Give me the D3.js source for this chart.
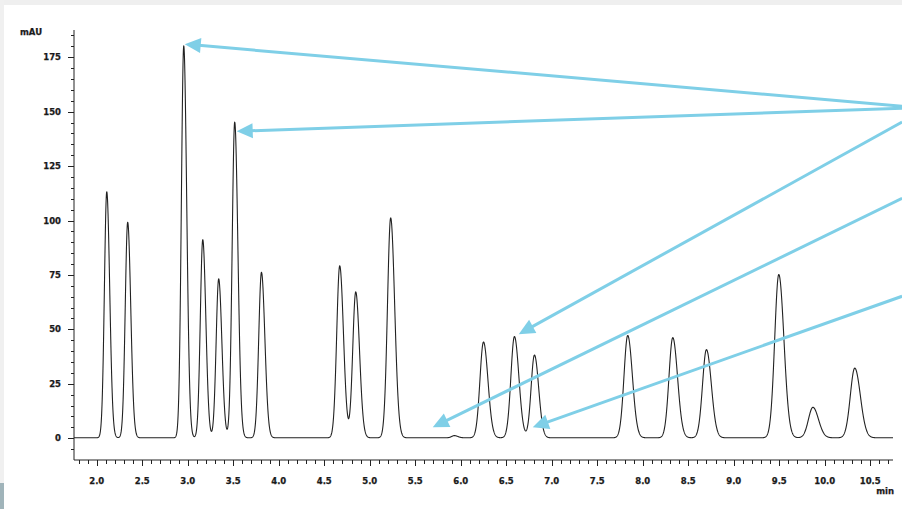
<!DOCTYPE html>
<html>
<head>
<meta charset="utf-8">
<script src="https://cdn.jsdelivr.net/npm/d3@7"></script>
<style>
  html, body { margin: 0; padding: 0; background: #fff; }
  svg { display: block; }
  .tick-label { font-family: "DejaVu Sans", sans-serif; font-weight: bold; font-size: 8.5px; fill: #1a1a1a; stroke: #1a1a1a; stroke-width: 0.25px; }
</style>
</head>
<body>
<div id="chart"></div>
<script>
// peak retention times (min), heights (mAU), widths (sigma, min)
const peakTimes   = [2.11, 2.34, 2.956, 3.165, 3.34, 3.516, 3.81, 4.67, 4.846, 5.23, 5.93, 6.25, 6.59, 6.81, 7.835, 8.33, 8.70, 9.495, 9.87, 10.33];
const peakHeights = [113, 99, 180, 91, 73, 145, 76, 79, 67, 101, 1, 44, 46.5, 38, 47, 46, 40.5, 75, 14, 32];
const peakSigmas  = [0.026, 0.027, 0.026, 0.027, 0.028, 0.028, 0.030, 0.033, 0.033, 0.035, 0.03, 0.039, 0.039, 0.037, 0.041, 0.042, 0.043, 0.045, 0.049, 0.049];

const xTickLabels = [2.0, 2.5, 3.0, 3.5, 4.0, 4.5, 5.0, 5.5, 6.0, 6.5, 7.0, 7.5, 8.0, 8.5, 9.0, 9.5, 10.0, 10.5];
const yTickLabels = [0, 25, 50, 75, 100, 125, 150, 175];

// annotation arrows: from [time, mAU] to [time, mAU]
const arrowFrom = [[10.85, 152.5], [10.85, 151.6], [10.85, 145.2], [10.85, 110.2], [10.85, 65.2]];
const arrowTo   = [[2.967, 181], [3.538, 141], [6.637, 47.8], [5.692, 5.05], [6.791, 5.05]];

const width = 902, height = 509;
const svg = d3.select('#chart').append('svg')
  .attr('width', width)
  .attr('height', height);

// page edges
svg.append('rect').attr('x', 0).attr('y', 0).attr('width', width).attr('height', 5).attr('fill', '#efefef');
svg.append('rect').attr('x', 0).attr('y', 0).attr('width', 4).attr('height', height).attr('fill', '#f0f0f0');
svg.append('rect').attr('x', 0).attr('y', 483).attr('width', 4).attr('height', 26).attr('fill', '#a0b4ba');

const x = d3.scaleLinear().domain([1.75, 10.75]).range([74, 893]);
const y = d3.scaleLinear().domain([-10, 187.5]).range([460, 30]);

// axes
const axis = svg.append('g').attr('stroke', '#222').attr('stroke-width', 1);
axis.append('line').attr('x1', x(1.75)).attr('x2', x(10.75)).attr('y1', y(-10)).attr('y2', y(-10));
axis.append('line').attr('x1', x(1.75)).attr('x2', x(1.75)).attr('y1', y(-10)).attr('y2', y(187.5));

const xMinor = d3.range(18, 108).map(d => d / 10);
axis.selectAll('.xt').data(xMinor).enter().append('line')
  .attr('x1', d => Math.round(x(d)) + 0.5).attr('x2', d => Math.round(x(d)) + 0.5)
  .attr('y1', y(-10))
  .attr('y2', d => y(-10) + (Math.abs(d * 2 - Math.round(d * 2)) < 1e-6 ? 6 : 4));

const yMinor = d3.range(-5, 190, 5);
axis.selectAll('.yt').data(yMinor).enter().append('line')
  .attr('y1', d => Math.round(y(d)) + 0.5).attr('y2', d => Math.round(y(d)) + 0.5)
  .attr('x1', x(1.75))
  .attr('x2', d => x(1.75) - (d % 25 === 0 ? 6 : 3));

svg.selectAll('.xl').data(xTickLabels).enter().append('text')
  .attr('class', 'tick-label')
  .attr('x', d => x(d)).attr('y', 484)
  .attr('text-anchor', 'middle')
  .text(d => d.toFixed(1));

svg.selectAll('.yl').data(yTickLabels).enter().append('text')
  .attr('class', 'tick-label')
  .attr('x', 61).attr('y', d => y(d) + 3)
  .attr('text-anchor', 'end')
  .text(d => d);

svg.append('text').attr('class', 'tick-label').attr('x', 20).attr('y', 35).text('mAU');
svg.append('text').attr('class', 'tick-label').attr('x', 894).attr('y', 494).attr('text-anchor', 'end').text('min');

// chromatogram trace built from the peak table
const tail = 1.25;
function signal(t) {
  let v = 0.2;
  for (let i = 0; i < peakTimes.length; i++) {
    const s = t < peakTimes[i] ? peakSigmas[i] : peakSigmas[i] * tail;
    const z = (t - peakTimes[i]) / s;
    v += peakHeights[i] * Math.exp(-0.5 * z * z);
  }
  return v;
}
const times = d3.range(1.75, 10.751, 0.002);
const line = d3.line().x(d => x(d)).y(d => y(signal(d)));
svg.append('path')
  .datum(times)
  .attr('d', line)
  .attr('fill', 'none')
  .attr('stroke', '#222')
  .attr('stroke-width', 1.1)
  .attr('stroke-linejoin', 'round');

// arrows
const arrowColor = '#7fcfe7';
const headLen = 16, headHalf = 7.5;
const arrows = svg.append('g');
arrowFrom.forEach((f, i) => {
  const x0 = x(f[0]), y0 = y(f[1]);
  const x1 = x(arrowTo[i][0]), y1 = y(arrowTo[i][1]);
  const dx = x1 - x0, dy = y1 - y0, len = Math.hypot(dx, dy);
  const ux = dx / len, uy = dy / len;
  const bx = x1 - ux * headLen, by = y1 - uy * headLen;
  arrows.append('line')
    .attr('x1', x0).attr('y1', y0).attr('x2', bx + ux * 2).attr('y2', by + uy * 2)
    .attr('stroke', arrowColor).attr('stroke-width', 3);
  arrows.append('polygon')
    .attr('points', [[x1, y1], [bx - uy * headHalf, by + ux * headHalf], [bx + uy * headHalf, by - ux * headHalf]].map(p => p.join(',')).join(' '))
    .attr('fill', arrowColor);
});
</script>
</body>
</html>
